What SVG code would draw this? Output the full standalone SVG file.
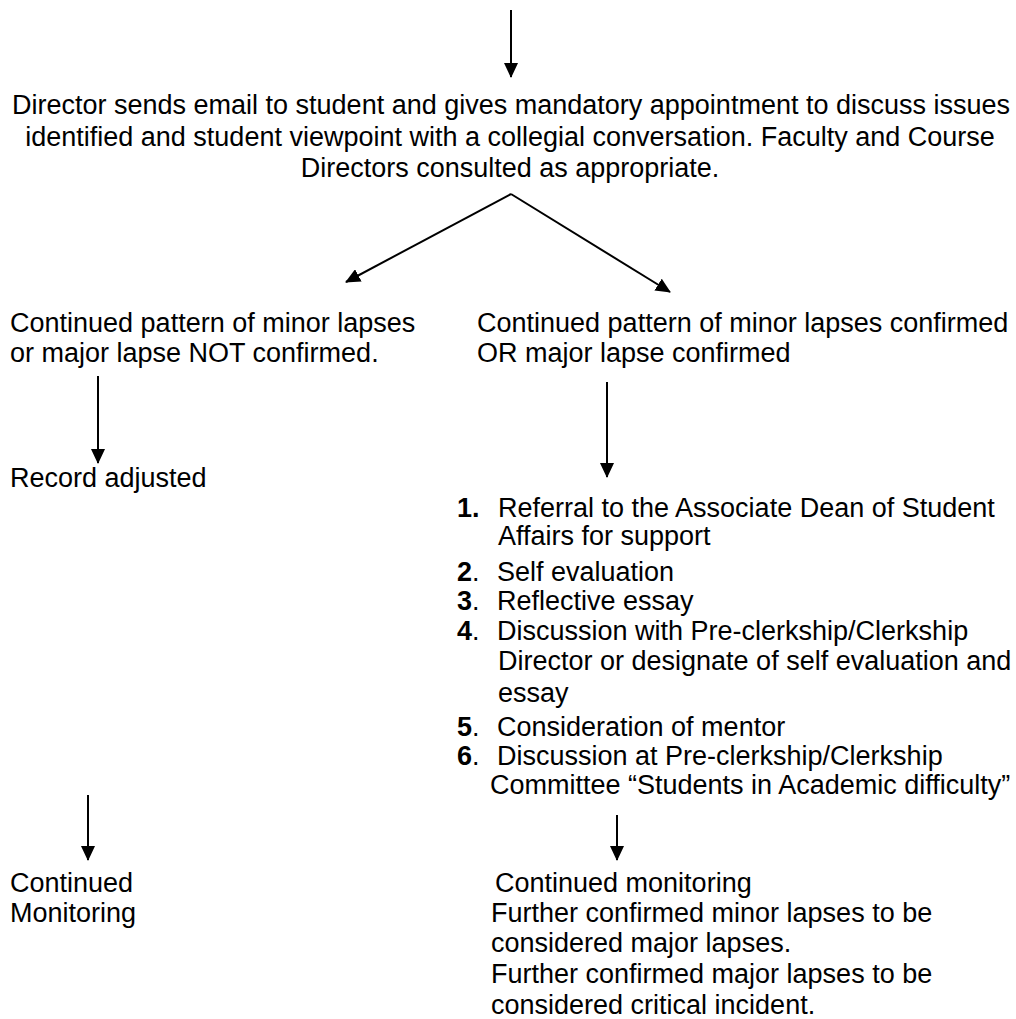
<svg xmlns="http://www.w3.org/2000/svg" width="1016" height="1019" viewBox="0 0 1016 1019">
<style>
text{font-family:"Liberation Sans",Arial,sans-serif;font-size:27px;fill:#000}
.c{text-anchor:middle}
.b{font-weight:bold}
.ln{stroke:#000;stroke-width:2;fill:none}
</style>
<defs>
<marker id="ah" viewBox="0 0 15 14" refX="14" refY="7" markerWidth="15" markerHeight="14" markerUnits="userSpaceOnUse" orient="auto">
<path d="M0,0 L15,7 L0,14 Z" fill="#000"/>
</marker>
</defs>
<rect width="1016" height="1019" fill="#fff"/>
<g id="connectors">
<line class="ln" x1="511" y1="10" x2="511" y2="77" marker-end="url(#ah)"/>
<line class="ln" x1="511" y1="194" x2="346" y2="282" marker-end="url(#ah)"/>
<line class="ln" x1="511" y1="194" x2="670" y2="292" marker-end="url(#ah)"/>
<line class="ln" x1="98" y1="376" x2="98" y2="463" marker-end="url(#ah)"/>
<line class="ln" x1="607" y1="382" x2="607" y2="477" marker-end="url(#ah)"/>
<line class="ln" x1="88" y1="795" x2="88" y2="860" marker-end="url(#ah)"/>
<line class="ln" x1="617" y1="815" x2="617" y2="860" marker-end="url(#ah)"/>
</g>
<g id="director">
<text class="c" x="511" y="114">Director sends email to student and gives mandatory appointment to discuss issues</text>
<text class="c" x="510" y="146">identified and student viewpoint with a collegial conversation. Faculty and Course</text>
<text class="c" x="510" y="177">Directors consulted as appropriate.</text>
</g>
<g id="not-confirmed">
<text x="10" y="332">Continued pattern of minor lapses</text>
<text x="10" y="362">or major lapse NOT confirmed.</text>
</g>
<g id="confirmed">
<text x="477" y="332">Continued pattern of minor lapses confirmed</text>
<text x="477" y="362">OR major lapse confirmed</text>
</g>
<g id="record-adjusted">
<text x="10" y="487">Record adjusted</text>
</g>
<g id="actions">
<text x="457" y="517" class="b">1.</text>
<text x="498" y="517">Referral to the Associate Dean of Student</text>
<text x="498" y="545">Affairs for support</text>
<text x="457" y="581"><tspan class="b">2</tspan>.</text>
<text x="497" y="581">Self evaluation</text>
<text x="457" y="610"><tspan class="b">3</tspan>.</text>
<text x="497" y="610">Reflective essay</text>
<text x="457" y="640"><tspan class="b">4</tspan>.</text>
<text x="497" y="640">Discussion with Pre-clerkship/Clerkship</text>
<text x="498" y="670">Director or designate of self evaluation and</text>
<text x="498" y="702">essay</text>
<text x="457" y="736"><tspan class="b">5</tspan>.</text>
<text x="497" y="736">Consideration of mentor</text>
<text x="457" y="765"><tspan class="b">6</tspan>.</text>
<text x="497" y="765">Discussion at Pre-clerkship/Clerkship</text>
<text x="490" y="794">Committee “Students in Academic difficulty”</text>
</g>
<g id="continued-monitoring-left">
<text x="10" y="892">Continued</text>
<text x="10" y="922">Monitoring</text>
</g>
<g id="continued-monitoring-right">
<text x="495" y="892">Continued monitoring</text>
<text x="491" y="922">Further confirmed minor lapses to be</text>
<text x="491" y="952">considered major lapses.</text>
<text x="491" y="983">Further confirmed major lapses to be</text>
<text x="491" y="1014">considered critical incident.</text>
</g>
</svg>
